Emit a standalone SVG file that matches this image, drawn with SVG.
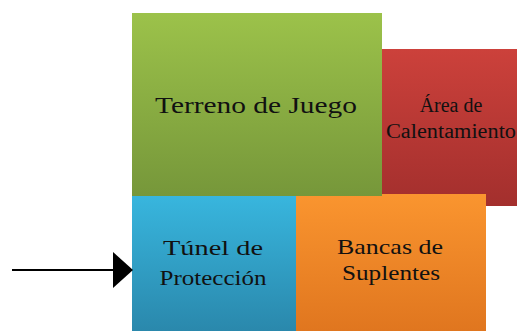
<svg xmlns="http://www.w3.org/2000/svg" width="517" height="331" viewBox="0 0 517 331">
<style>
  .lbl { font-family: "Liberation Serif", "DejaVu Serif", serif; fill: #111; text-anchor: middle; }
</style>
<defs>
  <linearGradient id="gGreen" x1="0" y1="0" x2="0" y2="1"><stop offset="0" stop-color="#9cc24a"/><stop offset="1" stop-color="#76973a"/></linearGradient>
  <linearGradient id="gRed" x1="0" y1="0" x2="0" y2="1"><stop offset="0" stop-color="#cc413b"/><stop offset="1" stop-color="#a32f2d"/></linearGradient>
  <linearGradient id="gBlue" x1="0" y1="0" x2="0" y2="1"><stop offset="0" stop-color="#38b6de"/><stop offset="1" stop-color="#2a88ac"/></linearGradient>
  <linearGradient id="gOrange" x1="0" y1="0" x2="0" y2="1"><stop offset="0" stop-color="#fa952f"/><stop offset="1" stop-color="#e0761f"/></linearGradient>
</defs>
<rect width="517" height="331" fill="#fff"/>
<g id="calentamiento">
  <rect x="382" y="49" width="136" height="157" fill="url(#gRed)"/>
  <text class="lbl" x="451" y="112" font-size="20">Área de</text>
  <text class="lbl" x="451" y="138" font-size="20" textLength="130" lengthAdjust="spacingAndGlyphs">Calentamiento</text>
</g>
<g id="tunel">
  <rect x="132" y="195" width="164" height="136" fill="url(#gBlue)"/>
  <text class="lbl" x="213" y="255" font-size="22" textLength="100" lengthAdjust="spacingAndGlyphs">Túnel de</text>
  <text class="lbl" x="213" y="285" font-size="22" textLength="107" lengthAdjust="spacingAndGlyphs">Protección</text>
</g>
<g id="bancas">
  <rect x="296" y="194" width="190" height="137" fill="url(#gOrange)"/>
  <text class="lbl" x="390" y="254" font-size="21" textLength="106" lengthAdjust="spacingAndGlyphs">Bancas de</text>
  <text class="lbl" x="391" y="280" font-size="21" textLength="98" lengthAdjust="spacingAndGlyphs">Suplentes</text>
</g>
<g id="terreno">
  <rect x="132" y="13" width="250" height="183" fill="url(#gGreen)"/>
  <text class="lbl" x="256" y="113" font-size="23" textLength="202" lengthAdjust="spacingAndGlyphs">Terreno de Juego</text>
</g>
<g id="connectors">
  <line x1="12" y1="270" x2="115" y2="270" stroke="#000" stroke-width="2"/>
  <path d="M113,252 L133,270 L113,288 Z" fill="#000"/>
</g>
</svg>
